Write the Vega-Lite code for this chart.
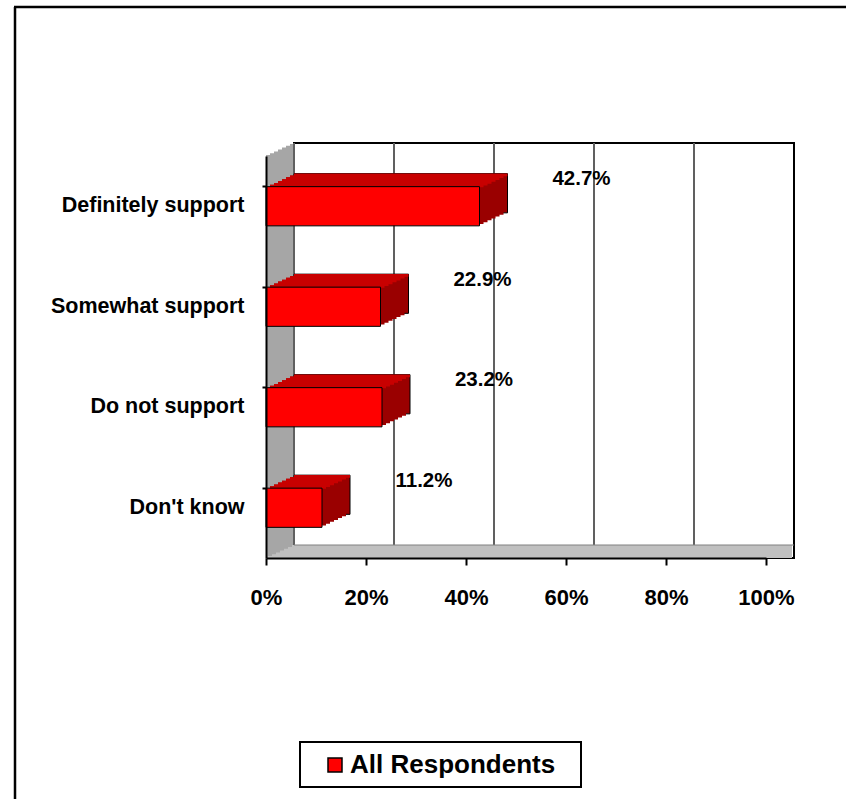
{
  "$schema": "https://vega.github.io/schema/vega-lite/v6.json",
  "width": 500,
  "height": 402,
  "autosize": {"type": "none"},
  "padding": {"left": 266, "top": 156, "right": 80, "bottom": 241},
  "background": "white",
  "config": {
    "view": {"stroke": null},
    "font": "Liberation Sans",
    "axis": {"labelFont": "Liberation Sans", "labelFontWeight": "bold", "labelColor": "black"}
  },
  "datasets": {
    "bars": [
      {"response": "Definitely support", "pct": 42.7, "series": "All Respondents"},
      {"response": "Somewhat support", "pct": 22.9, "series": "All Respondents"},
      {"response": "Do not support", "pct": 23.2, "series": "All Respondents"},
      {"response": "Don't know", "pct": 11.2, "series": "All Respondents"}
    ],
    "grid": [{"g": 0}, {"g": 20}, {"g": 40}, {"g": 60}, {"g": 80}],
    "one": [{"k": 1}]
  },
  "layer": [
    {
      "data": {"name": "one"},
      "mark": {"type": "rect", "fill": "white", "stroke": "black", "strokeWidth": 2, "xOffset": 28, "x2Offset": 28, "yOffset": -13},
      "encoding": {"x": {"datum": 0, "type": "quantitative", "scale": {"domain": [0, 100], "nice": false}}, "x2": {"datum": 100}}
    },
    {"data": {"name": "one"}, "mark": {"type": "rect", "fill": "#a6a6a6", "xOffset": 0, "x2Offset": 4.5, "yOffset": -0.9}, "encoding": {"x": {"datum": 0, "type": "quantitative"}, "x2": {"datum": 0}}},
    {"data": {"name": "one"}, "mark": {"type": "rect", "fill": "#a6a6a6", "xOffset": 4, "x2Offset": 8.5, "yOffset": -2.8}, "encoding": {"x": {"datum": 0, "type": "quantitative"}, "x2": {"datum": 0}}},
    {"data": {"name": "one"}, "mark": {"type": "rect", "fill": "#a6a6a6", "xOffset": 8, "x2Offset": 12.5, "yOffset": -4.6}, "encoding": {"x": {"datum": 0, "type": "quantitative"}, "x2": {"datum": 0}}},
    {"data": {"name": "one"}, "mark": {"type": "rect", "fill": "#a6a6a6", "xOffset": 12, "x2Offset": 16.5, "yOffset": -6.5}, "encoding": {"x": {"datum": 0, "type": "quantitative"}, "x2": {"datum": 0}}},
    {"data": {"name": "one"}, "mark": {"type": "rect", "fill": "#a6a6a6", "xOffset": 16, "x2Offset": 20.5, "yOffset": -8.4}, "encoding": {"x": {"datum": 0, "type": "quantitative"}, "x2": {"datum": 0}}},
    {"data": {"name": "one"}, "mark": {"type": "rect", "fill": "#a6a6a6", "xOffset": 20, "x2Offset": 24.5, "yOffset": -10.2}, "encoding": {"x": {"datum": 0, "type": "quantitative"}, "x2": {"datum": 0}}},
    {"data": {"name": "one"}, "mark": {"type": "rect", "fill": "#a6a6a6", "xOffset": 24, "x2Offset": 28, "yOffset": -12.1}, "encoding": {"x": {"datum": 0, "type": "quantitative"}, "x2": {"datum": 0}}},
    {
      "data": {"name": "grid"},
      "mark": {"type": "rule", "stroke": "#606060", "strokeWidth": 2, "xOffset": 28, "yOffset": -13},
      "encoding": {"x": {"field": "g", "type": "quantitative"}}
    },
    {"data": {"name": "one"}, "mark": {"type": "rect", "fill": "#c0c0c0", "xOffset": 26, "x2Offset": 26, "yOffset": 389}, "encoding": {"x": {"datum": 0, "type": "quantitative"}, "x2": {"datum": 100}}},
    {"data": {"name": "one"}, "mark": {"type": "rect", "fill": "#c0c0c0", "xOffset": 22, "x2Offset": 22, "yOffset": 390.9}, "encoding": {"x": {"datum": 0, "type": "quantitative"}, "x2": {"datum": 100}}},
    {"data": {"name": "one"}, "mark": {"type": "rect", "fill": "#c0c0c0", "xOffset": 18, "x2Offset": 18, "yOffset": 392.7}, "encoding": {"x": {"datum": 0, "type": "quantitative"}, "x2": {"datum": 100}}},
    {"data": {"name": "one"}, "mark": {"type": "rect", "fill": "#c0c0c0", "xOffset": 14, "x2Offset": 14, "yOffset": 394.6}, "encoding": {"x": {"datum": 0, "type": "quantitative"}, "x2": {"datum": 100}}},
    {"data": {"name": "one"}, "mark": {"type": "rect", "fill": "#c0c0c0", "xOffset": 10, "x2Offset": 10, "yOffset": 396.4}, "encoding": {"x": {"datum": 0, "type": "quantitative"}, "x2": {"datum": 100}}},
    {"data": {"name": "one"}, "mark": {"type": "rect", "fill": "#c0c0c0", "xOffset": 6, "x2Offset": 6, "yOffset": 398.3}, "encoding": {"x": {"datum": 0, "type": "quantitative"}, "x2": {"datum": 100}}},
    {"data": {"name": "one"}, "mark": {"type": "rect", "fill": "#c0c0c0", "xOffset": 2, "x2Offset": 2, "yOffset": 400.1}, "encoding": {"x": {"datum": 0, "type": "quantitative"}, "x2": {"datum": 100}}},
    {
      "data": {"name": "one"},
      "mark": {"type": "rule", "stroke": "#808080", "strokeWidth": 1, "xOffset": 28, "x2Offset": 28, "yOffset": 37.25},
      "encoding": {"x": {"datum": 0, "type": "quantitative"}, "x2": {"datum": 100}, "y": {"datum": "Don't know", "type": "nominal"}}
    },
    {"data": {"name": "bars"}, "mark": {"type": "bar", "fill": "#9a0000", "stroke": "black", "strokeWidth": 1, "xOffset": 28, "x2Offset": 28, "yOffset": -13},
     "encoding": {"y": {"field": "response", "type": "nominal", "sort": null, "scale": {"domain": ["Definitely support", "Somewhat support", "Do not support", "Don't know"], "paddingInner": 0.61, "paddingOuter": 0.305}}, "x": {"field": "pct", "type": "quantitative"}}},
    {"data": {"name": "bars"}, "mark": {"type": "bar", "fill": "#9a0000", "xOffset": 24, "x2Offset": 24, "yOffset": -11.14},
     "encoding": {"y": {"field": "response", "type": "nominal", "sort": null}, "x": {"field": "pct", "type": "quantitative"}}},
    {"data": {"name": "bars"}, "mark": {"type": "bar", "fill": "#9a0000", "xOffset": 20, "x2Offset": 20, "yOffset": -9.29},
     "encoding": {"y": {"field": "response", "type": "nominal", "sort": null}, "x": {"field": "pct", "type": "quantitative"}}},
    {"data": {"name": "bars"}, "mark": {"type": "bar", "fill": "#9a0000", "xOffset": 16, "x2Offset": 16, "yOffset": -7.43},
     "encoding": {"y": {"field": "response", "type": "nominal", "sort": null}, "x": {"field": "pct", "type": "quantitative"}}},
    {"data": {"name": "bars"}, "mark": {"type": "bar", "fill": "#9a0000", "xOffset": 12, "x2Offset": 12, "yOffset": -5.57},
     "encoding": {"y": {"field": "response", "type": "nominal", "sort": null}, "x": {"field": "pct", "type": "quantitative"}}},
    {"data": {"name": "bars"}, "mark": {"type": "bar", "fill": "#9a0000", "xOffset": 8, "x2Offset": 8, "yOffset": -3.71},
     "encoding": {"y": {"field": "response", "type": "nominal", "sort": null}, "x": {"field": "pct", "type": "quantitative"}}},
    {"data": {"name": "bars"}, "mark": {"type": "bar", "fill": "#9a0000", "xOffset": 4, "x2Offset": 4, "yOffset": -1.86},
     "encoding": {"y": {"field": "response", "type": "nominal", "sort": null}, "x": {"field": "pct", "type": "quantitative"}}},
    {"data": {"name": "bars"}, "mark": {"type": "bar", "fill": "#c80000", "height": 2.6, "xOffset": 28, "x2Offset": 28, "yOffset": -31.35},
     "encoding": {"y": {"field": "response", "type": "nominal", "sort": null}, "x": {"field": "pct", "type": "quantitative"}}},
    {"data": {"name": "bars"}, "mark": {"type": "bar", "fill": "#c80000", "height": 2.6, "xOffset": 24, "x2Offset": 24, "yOffset": -29.49},
     "encoding": {"y": {"field": "response", "type": "nominal", "sort": null}, "x": {"field": "pct", "type": "quantitative"}}},
    {"data": {"name": "bars"}, "mark": {"type": "bar", "fill": "#c80000", "height": 2.6, "xOffset": 20, "x2Offset": 20, "yOffset": -27.64},
     "encoding": {"y": {"field": "response", "type": "nominal", "sort": null}, "x": {"field": "pct", "type": "quantitative"}}},
    {"data": {"name": "bars"}, "mark": {"type": "bar", "fill": "#c80000", "height": 2.6, "xOffset": 16, "x2Offset": 16, "yOffset": -25.78},
     "encoding": {"y": {"field": "response", "type": "nominal", "sort": null}, "x": {"field": "pct", "type": "quantitative"}}},
    {"data": {"name": "bars"}, "mark": {"type": "bar", "fill": "#c80000", "height": 2.6, "xOffset": 12, "x2Offset": 12, "yOffset": -23.92},
     "encoding": {"y": {"field": "response", "type": "nominal", "sort": null}, "x": {"field": "pct", "type": "quantitative"}}},
    {"data": {"name": "bars"}, "mark": {"type": "bar", "fill": "#c80000", "height": 2.6, "xOffset": 8, "x2Offset": 8, "yOffset": -22.06},
     "encoding": {"y": {"field": "response", "type": "nominal", "sort": null}, "x": {"field": "pct", "type": "quantitative"}}},
    {"data": {"name": "bars"}, "mark": {"type": "bar", "fill": "#c80000", "height": 2.6, "xOffset": 4, "x2Offset": 4, "yOffset": -20.21},
     "encoding": {"y": {"field": "response", "type": "nominal", "sort": null}, "x": {"field": "pct", "type": "quantitative"}}},
    {
      "data": {"name": "bars"},
      "mark": {"type": "bar", "stroke": "black", "strokeWidth": 1},
      "encoding": {
        "y": {
          "field": "response", "type": "nominal", "sort": null, "title": null,
          "axis": {"zindex": 1, "bandPosition": 0, "domainColor": "black", "domainWidth": 2, "tickColor": "black", "tickWidth": 2, "tickSize": 4, "labelFontSize": 21.5, "labelPadding": 18, "labelLimit": 0}
        },
        "x": {
          "field": "pct", "type": "quantitative", "title": null,
          "axis": {"zindex": 1, "values": [0, 20, 40, 60, 80, 100], "labelExpr": "datum.value + '%'", "grid": false, "domainColor": "black", "domainWidth": 2, "tickColor": "black", "tickWidth": 2, "tickSize": 7, "labelFontSize": 22, "labelPadding": 22, "labelOverlap": false, "labelFlush": false}
        },
        "color": {
          "field": "series", "type": "nominal", "title": null,
          "scale": {"range": ["#ff0000"]},
          "legend": {
            "orient": "none", "legendX": 48, "legendY": 588, "direction": "horizontal", "padding": 8,
            "symbolType": "square", "symbolSize": 196, "symbolStrokeColor": "black", "symbolStrokeWidth": 1.5,
            "labelFont": "Liberation Sans", "labelFontWeight": "bold", "labelFontSize": 26, "labelColor": "black", "labelOffset": 2, "labelLimit": 0
          }
        }
      }
    },
    {
      "data": {"name": "bars"},
      "transform": [{"calculate": "format(datum.pct, '.1f') + '%'", "as": "label"}],
      "mark": {"type": "text", "font": "Liberation Sans", "fontWeight": "bold", "fontSize": 20.5, "dx": 102, "dy": -27, "align": "center", "baseline": "middle", "color": "black"},
      "encoding": {
        "y": {"field": "response", "type": "nominal", "sort": null},
        "x": {"field": "pct", "type": "quantitative"},
        "text": {"field": "label", "type": "nominal"}
      }
    },
    {
      "data": {"name": "one"},
      "mark": {"type": "rule", "stroke": "black", "strokeWidth": 2.5, "xOffset": -251, "yOffset": -199.25, "y2Offset": 350},
      "encoding": {"x": {"datum": 0, "type": "quantitative"}, "y": {"datum": "Definitely support", "type": "nominal"}, "y2": {"datum": "Don't know"}}
    },
    {
      "data": {"name": "one"},
      "mark": {"type": "rule", "stroke": "black", "strokeWidth": 2.5, "xOffset": -252, "x2Offset": 100, "yOffset": -199.25},
      "encoding": {"x": {"datum": 0, "type": "quantitative"}, "x2": {"datum": 100}, "y": {"datum": "Definitely support", "type": "nominal"}}
    },
    {
      "data": {"name": "one"},
      "mark": {"type": "rect", "fill": "transparent", "stroke": "black", "strokeWidth": 2, "xOffset": 34, "x2Offset": 315, "yOffset": 234.25, "y2Offset": 279.25},
      "encoding": {"x": {"datum": 0, "type": "quantitative"}, "x2": {"datum": 0}, "y": {"datum": "Don't know", "type": "nominal"}, "y2": {"datum": "Don't know"}}
    }
  ]
}
